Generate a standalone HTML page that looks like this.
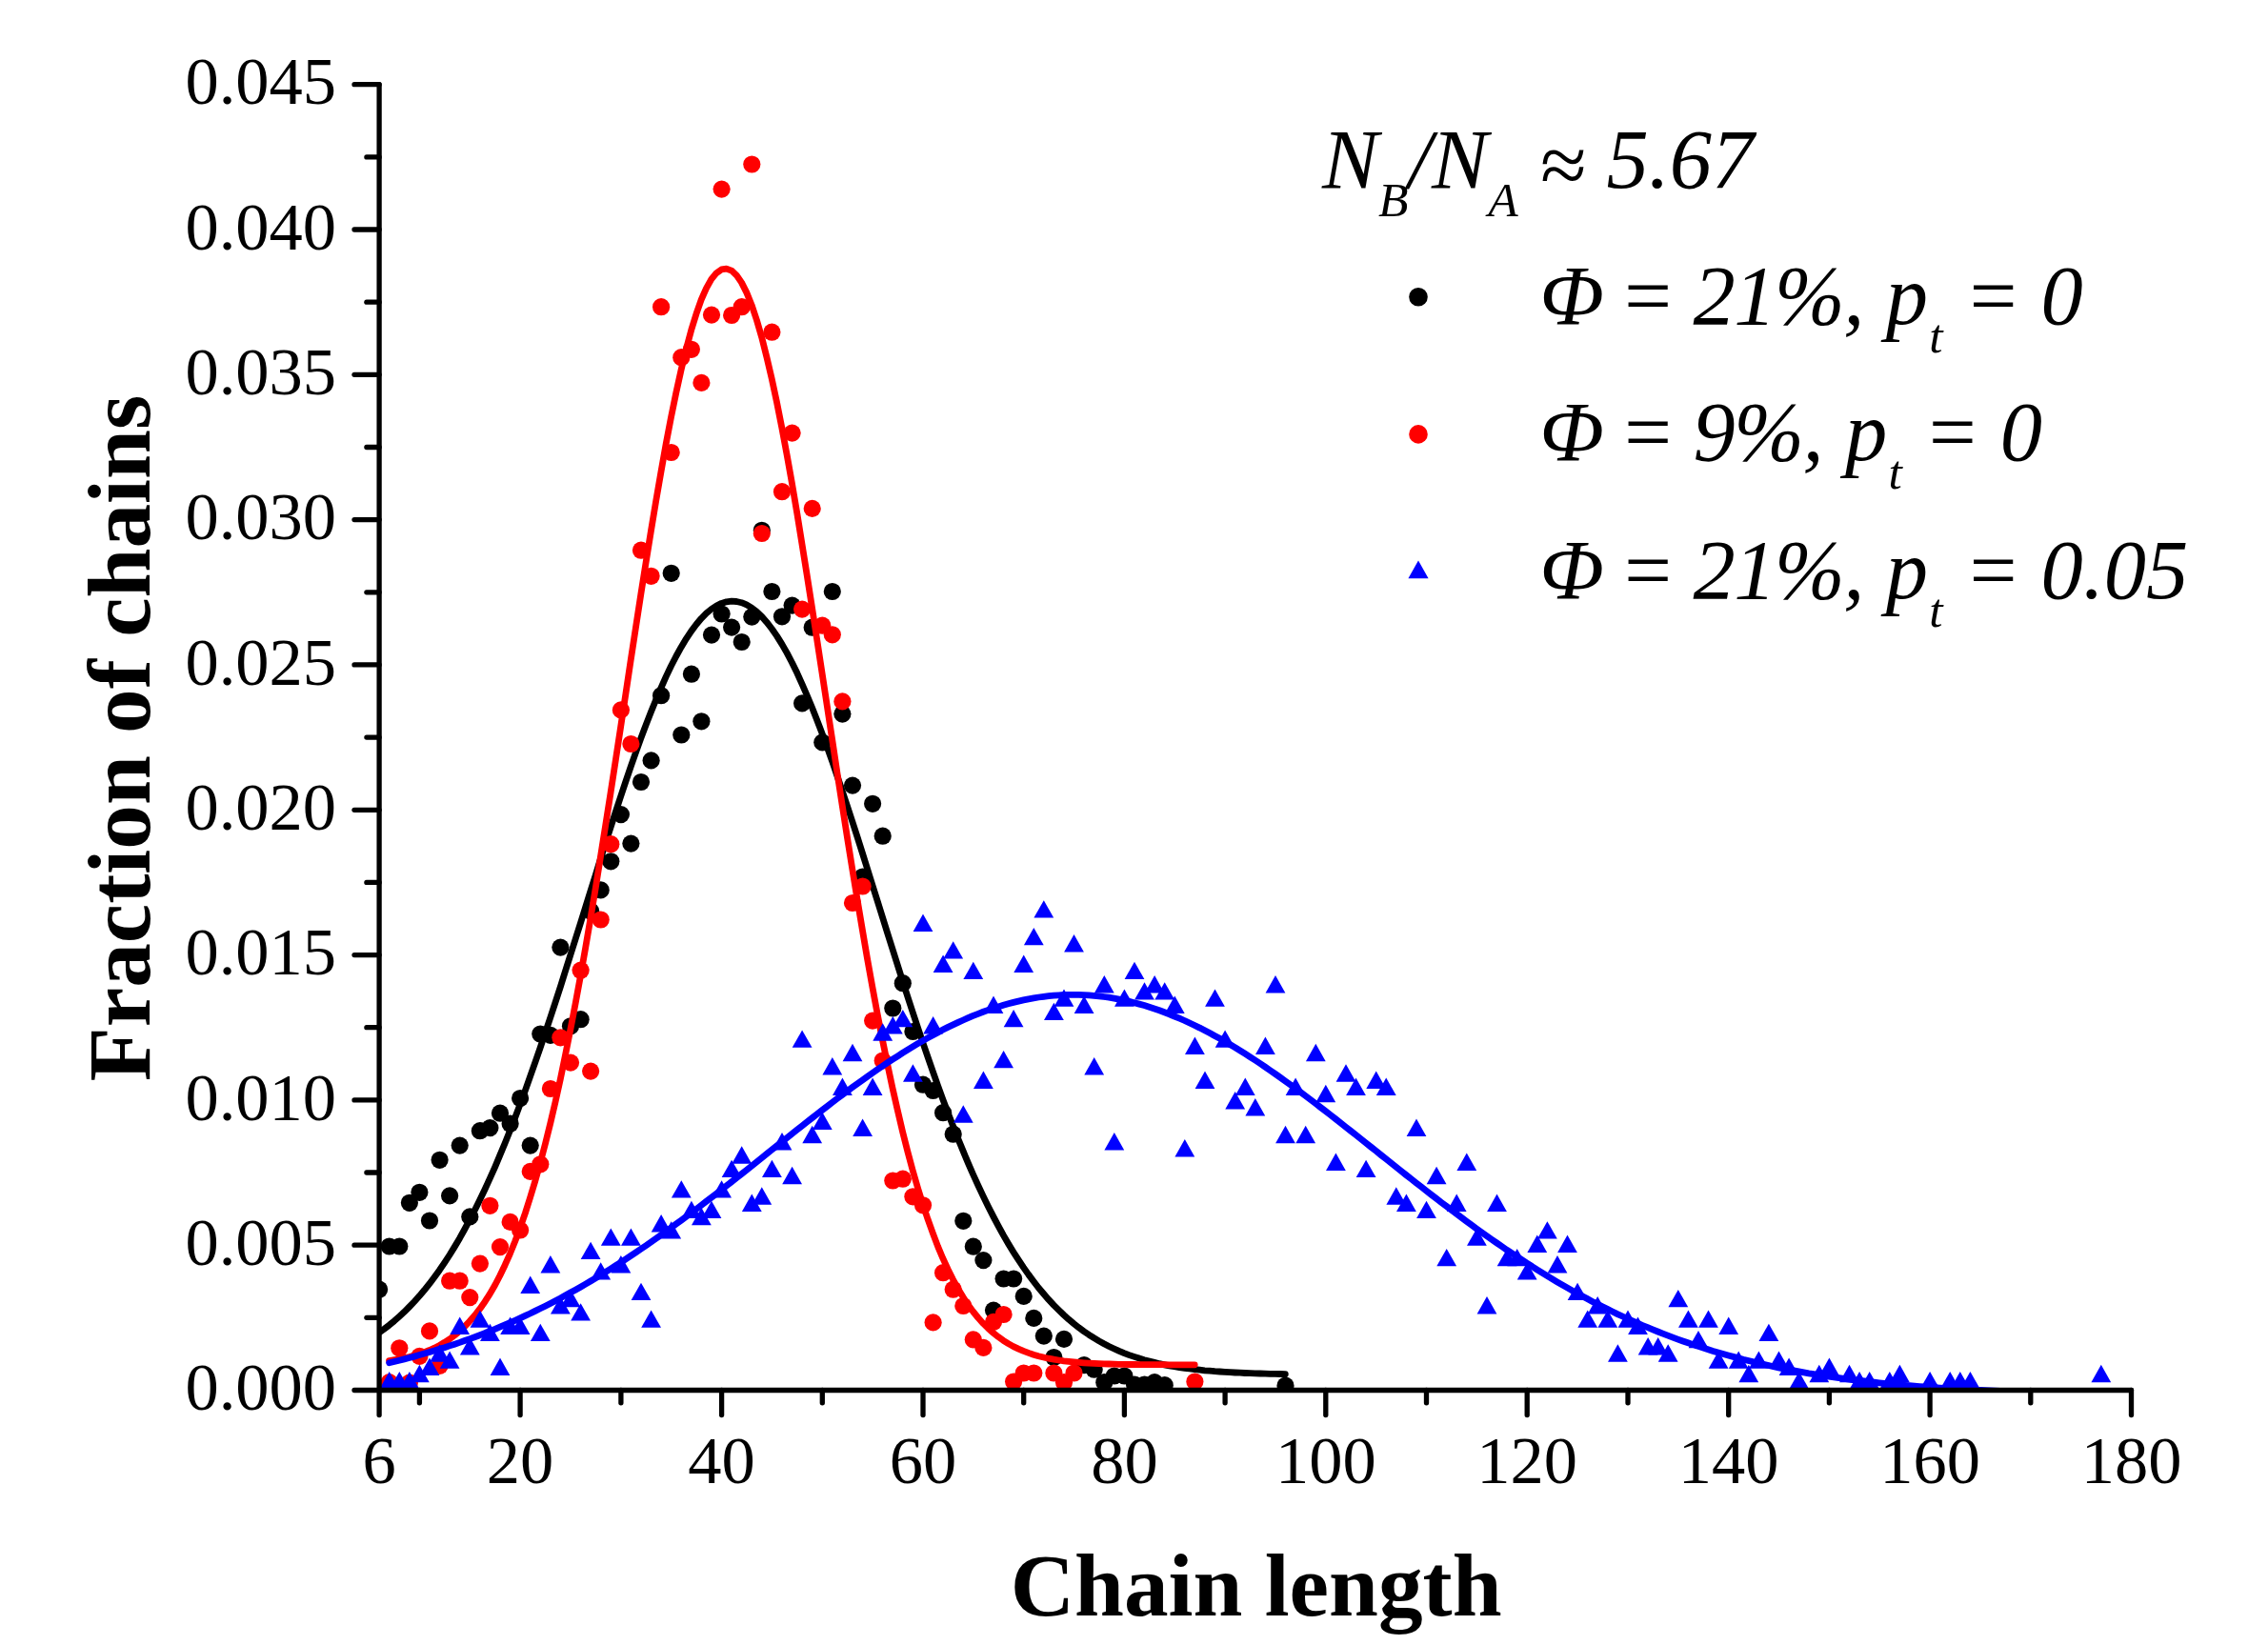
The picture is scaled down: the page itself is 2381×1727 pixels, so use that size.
<!DOCTYPE html>
<html lang="en"><head><meta charset="utf-8"><title>Chain length distribution</title>
<style>html,body{margin:0;padding:0;background:#fff}body{width:2381px;height:1727px;overflow:hidden}svg{display:block}text{font-family:"Liberation Serif","Times New Roman",Times,serif;fill:#000}.tk{font-size:70.5px}.ti{font-size:93.3px;font-weight:bold}.lg{font-size:88.5px;font-style:italic}.sb{font-size:51.5px}</style></head><body>
<svg width="2381" height="1727" viewBox="0 0 2381 1727">
<rect width="2381" height="1727" fill="#fff"/>
<defs><clipPath id="pc"><rect x="398.1" y="0" width="1982.8" height="1459.5"/></clipPath></defs>
<g clip-path="url(#pc)">
<g fill="#000">
<circle cx="398.1" cy="1353.7" r="9.1"/>
<circle cx="408.7" cy="1308.5" r="9.1"/>
<circle cx="419.3" cy="1308.5" r="9.1"/>
<circle cx="429.9" cy="1262.8" r="9.1"/>
<circle cx="440.4" cy="1251.8" r="9.1"/>
<circle cx="451" cy="1281.5" r="9.1"/>
<circle cx="461.6" cy="1217.8" r="9.1"/>
<circle cx="472.1" cy="1255.4" r="9.1"/>
<circle cx="482.7" cy="1202.6" r="9.1"/>
<circle cx="493.3" cy="1277.4" r="9.1"/>
<circle cx="503.9" cy="1187.2" r="9.1"/>
<circle cx="514.4" cy="1184.1" r="9.1"/>
<circle cx="525" cy="1168.7" r="9.1"/>
<circle cx="535.6" cy="1179.7" r="9.1"/>
<circle cx="546.1" cy="1153" r="9.1"/>
<circle cx="556.7" cy="1202.6" r="9.1"/>
<circle cx="567.3" cy="1085.5" r="9.1"/>
<circle cx="577.9" cy="1086.9" r="9.1"/>
<circle cx="588.4" cy="994.6" r="9.1"/>
<circle cx="599" cy="1077.3" r="9.1"/>
<circle cx="609.6" cy="1070.2" r="9.1"/>
<circle cx="620.1" cy="956.5" r="9.1"/>
<circle cx="630.7" cy="934.4" r="9.1"/>
<circle cx="641.3" cy="904.3" r="9.1"/>
<circle cx="651.9" cy="855.1" r="9.1"/>
<circle cx="662.4" cy="885.6" r="9.1"/>
<circle cx="673" cy="821" r="9.1"/>
<circle cx="683.6" cy="798.4" r="9.1"/>
<circle cx="694.1" cy="730.2" r="9.1"/>
<circle cx="704.7" cy="601.8" r="9.1"/>
<circle cx="715.3" cy="771.5" r="9.1"/>
<circle cx="725.9" cy="707.7" r="9.1"/>
<circle cx="736.4" cy="757.3" r="9.1"/>
<circle cx="747" cy="666.6" r="9.1"/>
<circle cx="757.6" cy="644.5" r="9.1"/>
<circle cx="768.1" cy="658.6" r="9.1"/>
<circle cx="778.7" cy="674" r="9.1"/>
<circle cx="789.3" cy="647.6" r="9.1"/>
<circle cx="799.8" cy="556.8" r="9.1"/>
<circle cx="810.4" cy="621" r="9.1"/>
<circle cx="821" cy="647.3" r="9.1"/>
<circle cx="831.6" cy="635.6" r="9.1"/>
<circle cx="842.1" cy="738.4" r="9.1"/>
<circle cx="852.7" cy="658.7" r="9.1"/>
<circle cx="863.3" cy="779.4" r="9.1"/>
<circle cx="873.8" cy="621" r="9.1"/>
<circle cx="884.4" cy="749.6" r="9.1"/>
<circle cx="895" cy="824.6" r="9.1"/>
<circle cx="905.6" cy="920.5" r="9.1"/>
<circle cx="916.1" cy="843.8" r="9.1"/>
<circle cx="926.7" cy="877.7" r="9.1"/>
<circle cx="937.3" cy="1058.5" r="9.1"/>
<circle cx="947.8" cy="1032.2" r="9.1"/>
<circle cx="958.4" cy="1083" r="9.1"/>
<circle cx="969" cy="1138.7" r="9.1"/>
<circle cx="979.6" cy="1145" r="9.1"/>
<circle cx="990.1" cy="1168.2" r="9.1"/>
<circle cx="1000.7" cy="1190.7" r="9.1"/>
<circle cx="1011.3" cy="1281.8" r="9.1"/>
<circle cx="1021.8" cy="1308.7" r="9.1"/>
<circle cx="1032.4" cy="1323.1" r="9.1"/>
<circle cx="1043" cy="1375.6" r="9.1"/>
<circle cx="1053.6" cy="1342.5" r="9.1"/>
<circle cx="1064.1" cy="1342.5" r="9.1"/>
<circle cx="1074.7" cy="1360.9" r="9.1"/>
<circle cx="1085.3" cy="1383.9" r="9.1"/>
<circle cx="1095.8" cy="1402.6" r="9.1"/>
<circle cx="1106.4" cy="1425" r="9.1"/>
<circle cx="1117" cy="1405.9" r="9.1"/>
<circle cx="1138.1" cy="1433.2" r="9.1"/>
<circle cx="1148.7" cy="1437.7" r="9.1"/>
<circle cx="1159.3" cy="1451.2" r="9.1"/>
<circle cx="1169.8" cy="1444.5" r="9.1"/>
<circle cx="1180.4" cy="1444.5" r="9.1"/>
<circle cx="1191" cy="1453.5" r="9.1"/>
<circle cx="1201.5" cy="1453.5" r="9.1"/>
<circle cx="1212.1" cy="1451.2" r="9.1"/>
<circle cx="1222.7" cy="1454.2" r="9.1"/>
<circle cx="1349.5" cy="1454.7" r="9.1"/>
</g>
<polyline points="398,1399 403.3,1395.2 408.6,1391.2 413.9,1386.8 419.1,1382.2 424.4,1377.3 429.7,1372 435,1366.5 440.3,1360.6 445.6,1354.3 450.9,1347.7 456.1,1340.7 461.4,1333.4 466.7,1325.6 472,1317.5 477.3,1308.9 482.6,1299.9 487.8,1290.5 493.1,1280.7 498.4,1270.5 503.7,1259.8 509,1248.7 514.3,1237.2 519.6,1225.3 524.8,1212.9 530.1,1200.2 535.4,1187 540.7,1173.4 546,1159.4 551.3,1145.1 556.5,1130.4 561.8,1115.4 567.1,1100.1 572.4,1084.4 577.7,1068.5 583,1052.4 588.3,1036.1 593.5,1019.5 598.8,1002.8 604.1,986 609.4,969.2 614.7,952.2 620,935.3 625.3,918.4 630.5,901.6 635.8,884.9 641.1,868.4 646.4,852.1 651.7,836 657,820.2 662.2,804.8 667.5,789.8 672.8,775.2 678.1,761.1 683.4,747.5 688.7,734.5 694,722.1 699.2,710.4 704.5,699.3 709.8,689 715.1,679.4 720.4,670.6 725.7,662.6 731,655.5 736.2,649.3 741.5,643.9 746.8,639.5 752.1,636 757.4,633.4 762.7,631.8 768,631.2 773.2,631.5 778.5,632.7 783.8,634.9 789.1,638.1 794.4,642.2 799.7,647.2 804.9,653.2 810.2,660 815.5,667.6 820.8,676.1 826.1,685.4 831.4,695.5 836.7,706.3 841.9,717.8 847.2,730 852.5,742.8 857.8,756.2 863.1,770.1 868.4,784.5 873.7,799.4 878.9,814.7 884.2,830.3 889.5,846.3 894.8,862.5 900.1,878.9 905.4,895.6 910.6,912.3 915.9,929.2 921.2,946.1 926.5,963.1 931.8,980 937.1,996.8 942.4,1013.5 947.6,1030.1 952.9,1046.5 958.2,1062.8 963.5,1078.8 968.8,1094.5 974.1,1109.9 979.4,1125.1 984.6,1139.9 989.9,1154.3 995.2,1168.4 1000.5,1182.1 1005.8,1195.5 1011.1,1208.4 1016.3,1220.9 1021.6,1233 1026.9,1244.7 1032.2,1255.9 1037.5,1266.7 1042.8,1277.1 1048.1,1287.1 1053.3,1296.6 1058.6,1305.7 1063.9,1314.4 1069.2,1322.7 1074.5,1330.6 1079.8,1338.1 1085.1,1345.2 1090.3,1352 1095.6,1358.3 1100.9,1364.4 1106.2,1370.1 1111.5,1375.4 1116.8,1380.5 1122,1385.2 1127.3,1389.6 1132.6,1393.8 1137.9,1397.7 1143.2,1401.3 1148.5,1404.7 1153.8,1407.9 1159,1410.8 1164.3,1413.5 1169.6,1416 1174.9,1418.4 1180.2,1420.6 1185.5,1422.6 1190.8,1424.4 1196,1426.1 1201.3,1427.7 1206.6,1429.1 1211.9,1430.4 1217.2,1431.7 1222.5,1432.8 1227.7,1433.8 1233,1434.7 1238.3,1435.6 1243.6,1436.3 1248.9,1437 1254.2,1437.7 1259.5,1438.2 1264.7,1438.8 1270,1439.2 1275.3,1439.7 1280.6,1440 1285.9,1440.4 1291.2,1440.7 1296.5,1441 1301.7,1441.2 1307,1441.5 1312.3,1441.7 1317.6,1441.8 1322.9,1442 1328.2,1442.1 1333.4,1442.3 1338.7,1442.4 1344,1442.5 1349.3,1442.6" fill="none" stroke="#000" stroke-width="6.8" stroke-linecap="round" stroke-linejoin="round"/>
<g fill="#f00">
<circle cx="408.7" cy="1451.2" r="9.1"/>
<circle cx="419.3" cy="1415.3" r="9.1"/>
<circle cx="429.9" cy="1451.7" r="9.1"/>
<circle cx="440.4" cy="1423.9" r="9.1"/>
<circle cx="451" cy="1397.4" r="9.1"/>
<circle cx="461.6" cy="1433.9" r="9.1"/>
<circle cx="472.1" cy="1344.7" r="9.1"/>
<circle cx="482.7" cy="1344.7" r="9.1"/>
<circle cx="493.3" cy="1362.1" r="9.1"/>
<circle cx="503.9" cy="1326.6" r="9.1"/>
<circle cx="514.4" cy="1265.8" r="9.1"/>
<circle cx="525" cy="1309.1" r="9.1"/>
<circle cx="535.6" cy="1282.9" r="9.1"/>
<circle cx="546.1" cy="1291.5" r="9.1"/>
<circle cx="556.7" cy="1229.9" r="9.1"/>
<circle cx="567.3" cy="1222.3" r="9.1"/>
<circle cx="577.9" cy="1143" r="9.1"/>
<circle cx="588.4" cy="1089.3" r="9.1"/>
<circle cx="599" cy="1115.6" r="9.1"/>
<circle cx="609.6" cy="1018.7" r="9.1"/>
<circle cx="620.1" cy="1124.6" r="9.1"/>
<circle cx="630.7" cy="965.5" r="9.1"/>
<circle cx="641.3" cy="886.2" r="9.1"/>
<circle cx="651.9" cy="745.4" r="9.1"/>
<circle cx="662.4" cy="781" r="9.1"/>
<circle cx="673" cy="577.7" r="9.1"/>
<circle cx="683.6" cy="604.8" r="9.1"/>
<circle cx="694.1" cy="322.2" r="9.1"/>
<circle cx="704.7" cy="475" r="9.1"/>
<circle cx="715.3" cy="375.2" r="9.1"/>
<circle cx="725.9" cy="366.8" r="9.1"/>
<circle cx="736.4" cy="401.9" r="9.1"/>
<circle cx="747" cy="330.6" r="9.1"/>
<circle cx="757.6" cy="198.6" r="9.1"/>
<circle cx="768.1" cy="331" r="9.1"/>
<circle cx="778.7" cy="322.2" r="9.1"/>
<circle cx="789.3" cy="172.5" r="9.1"/>
<circle cx="799.8" cy="560" r="9.1"/>
<circle cx="810.4" cy="348.7" r="9.1"/>
<circle cx="821" cy="516.2" r="9.1"/>
<circle cx="831.6" cy="454.6" r="9.1"/>
<circle cx="842.1" cy="639.6" r="9.1"/>
<circle cx="852.7" cy="533.9" r="9.1"/>
<circle cx="863.3" cy="656.7" r="9.1"/>
<circle cx="873.8" cy="666.3" r="9.1"/>
<circle cx="884.4" cy="736.4" r="9.1"/>
<circle cx="895" cy="948" r="9.1"/>
<circle cx="905.6" cy="930.5" r="9.1"/>
<circle cx="916.1" cy="1071.6" r="9.1"/>
<circle cx="926.7" cy="1113.5" r="9.1"/>
<circle cx="937.3" cy="1239.5" r="9.1"/>
<circle cx="947.8" cy="1237.7" r="9.1"/>
<circle cx="958.4" cy="1256.3" r="9.1"/>
<circle cx="969" cy="1265.3" r="9.1"/>
<circle cx="979.6" cy="1388.4" r="9.1"/>
<circle cx="990.1" cy="1336.2" r="9.1"/>
<circle cx="1000.7" cy="1353.7" r="9.1"/>
<circle cx="1011.3" cy="1371" r="9.1"/>
<circle cx="1021.8" cy="1406.4" r="9.1"/>
<circle cx="1032.4" cy="1414.9" r="9.1"/>
<circle cx="1043" cy="1387.9" r="9.1"/>
<circle cx="1053.6" cy="1380" r="9.1"/>
<circle cx="1064.1" cy="1450.5" r="9.1"/>
<circle cx="1074.7" cy="1441.5" r="9.1"/>
<circle cx="1085.3" cy="1441.5" r="9.1"/>
<circle cx="1106.4" cy="1441.5" r="9.1"/>
<circle cx="1117" cy="1451.2" r="9.1"/>
<circle cx="1127.5" cy="1441.5" r="9.1"/>
<circle cx="1254.4" cy="1450.5" r="9.1"/>
</g>
<polyline points="408.6,1428.5 413.9,1427.7 419.1,1426.8 424.4,1425.7 429.7,1424.5 435,1423.1 440.3,1421.5 445.6,1419.7 450.9,1417.5 456.1,1415.2 461.4,1412.4 466.7,1409.3 472,1405.9 477.3,1401.9 482.6,1397.5 487.8,1392.6 493.1,1387.1 498.4,1381 503.7,1374.2 509,1366.7 514.3,1358.4 519.6,1349.2 524.8,1339.2 530.1,1328.2 535.4,1316.3 540.7,1303.3 546,1289.2 551.3,1273.9 556.5,1257.5 561.8,1239.9 567.1,1221.1 572.4,1201 577.7,1179.6 583,1156.9 588.3,1132.9 593.5,1107.7 598.8,1081.2 604.1,1053.6 609.4,1024.8 614.7,994.8 620,963.9 625.3,932 630.5,899.3 635.8,865.9 641.1,831.9 646.4,797.5 651.7,762.7 657,727.8 662.2,693 667.5,658.4 672.8,624.1 678.1,590.5 683.4,557.6 688.7,525.8 694,495.1 699.2,465.8 704.5,438.1 709.8,412.2 715.1,388.2 720.4,366.3 725.7,346.6 731,329.4 736.2,314.7 741.5,302.6 746.8,293.2 752.1,286.7 757.4,282.9 762.7,282.1 768,284.1 773.2,288.9 778.5,296.6 783.8,307.1 789.1,320.2 794.4,336 799.7,354.2 804.9,374.8 810.2,397.5 815.5,422.3 820.8,449 826.1,477.4 831.4,507.2 836.7,538.4 841.9,570.7 847.2,603.9 852.5,637.8 857.8,672.2 863.1,706.9 868.4,741.8 873.7,776.6 878.9,811.3 884.2,845.6 889.5,879.4 894.8,912.5 900.1,944.9 905.4,976.4 910.6,1006.9 915.9,1036.4 921.2,1064.8 926.5,1092 931.8,1117.9 937.1,1142.7 942.4,1166.1 947.6,1188.3 952.9,1209.2 958.2,1228.8 963.5,1247.1 968.8,1264.2 974.1,1280.2 979.4,1294.9 984.6,1308.6 989.9,1321.2 995.2,1332.7 1000.5,1343.3 1005.8,1353 1011.1,1361.8 1016.3,1369.8 1021.6,1377 1026.9,1383.5 1032.2,1389.4 1037.5,1394.7 1042.8,1399.4 1048.1,1403.6 1053.3,1407.3 1058.6,1410.6 1063.9,1413.6 1069.2,1416.1 1074.5,1418.4 1079.8,1420.4 1085.1,1422.2 1090.3,1423.7 1095.6,1425 1100.9,1426.2 1106.2,1427.2 1111.5,1428 1116.8,1428.8 1122,1429.4 1127.3,1429.9 1132.6,1430.4 1137.9,1430.8 1143.2,1431.1 1148.5,1431.4 1153.8,1431.6 1159,1431.8 1164.3,1432 1169.6,1432.2 1174.9,1432.3 1180.2,1432.4 1185.5,1432.5 1190.8,1432.5 1196,1432.6 1201.3,1432.6 1206.6,1432.7 1211.9,1432.7 1217.2,1432.7 1222.5,1432.7 1227.7,1432.8 1233,1432.8 1238.3,1432.8 1243.6,1432.8 1248.9,1432.8 1254.2,1432.8" fill="none" stroke="#f00" stroke-width="6.8" stroke-linecap="round" stroke-linejoin="round"/>
<g fill="#00f">
<polygon points="408.7,1439.9 419.1,1458.3 398.3,1458.3"/>
<polygon points="419.3,1439.9 429.7,1458.3 408.9,1458.3"/>
<polygon points="429.9,1439.9 440.3,1458.3 419.5,1458.3"/>
<polygon points="440.4,1432.8 450.8,1451.2 430,1451.2"/>
<polygon points="451,1425.6 461.4,1444 440.6,1444"/>
<polygon points="461.6,1411.2 472,1429.7 451.2,1429.7"/>
<polygon points="472.1,1418.4 482.5,1436.8 461.7,1436.8"/>
<polygon points="482.7,1382.6 493.1,1401 472.3,1401"/>
<polygon points="493.3,1404.1 503.7,1422.5 482.9,1422.5"/>
<polygon points="503.9,1375.4 514.3,1393.8 493.5,1393.8"/>
<polygon points="514.4,1389.7 524.8,1408.1 504,1408.1"/>
<polygon points="525,1425.6 535.4,1444 514.6,1444"/>
<polygon points="535.6,1382.6 546,1401 525.2,1401"/>
<polygon points="546.1,1382.6 556.5,1401 535.7,1401"/>
<polygon points="556.7,1339.5 567.1,1358 546.3,1358"/>
<polygon points="567.3,1389.7 577.7,1408.1 556.9,1408.1"/>
<polygon points="577.9,1318 588.3,1336.4 567.5,1336.4"/>
<polygon points="588.4,1361.1 598.8,1379.5 578,1379.5"/>
<polygon points="599,1353.9 609.4,1372.3 588.6,1372.3"/>
<polygon points="609.6,1368.2 620,1386.6 599.2,1386.6"/>
<polygon points="620.1,1303.7 630.5,1322.1 609.7,1322.1"/>
<polygon points="630.7,1325.2 641.1,1343.6 620.3,1343.6"/>
<polygon points="641.3,1289.4 651.7,1307.8 630.9,1307.8"/>
<polygon points="651.9,1318 662.3,1336.4 641.5,1336.4"/>
<polygon points="662.4,1289.4 672.8,1307.8 652,1307.8"/>
<polygon points="673,1346.7 683.4,1365.1 662.6,1365.1"/>
<polygon points="683.6,1375.4 694,1393.8 673.2,1393.8"/>
<polygon points="694.1,1275 704.5,1293.4 683.7,1293.4"/>
<polygon points="704.7,1282.2 715.1,1300.6 694.3,1300.6"/>
<polygon points="715.3,1239.2 725.7,1257.6 704.9,1257.6"/>
<polygon points="725.9,1260.7 736.3,1279.1 715.5,1279.1"/>
<polygon points="736.4,1267.8 746.8,1286.2 726,1286.2"/>
<polygon points="747,1260.7 757.4,1279.1 736.6,1279.1"/>
<polygon points="757.6,1239.2 768,1257.6 747.2,1257.6"/>
<polygon points="768.1,1217.7 778.5,1236.1 757.7,1236.1"/>
<polygon points="778.7,1203.3 789.1,1221.7 768.3,1221.7"/>
<polygon points="789.3,1253.5 799.7,1271.9 778.9,1271.9"/>
<polygon points="799.8,1246.3 810.2,1264.7 789.4,1264.7"/>
<polygon points="810.4,1217.7 820.8,1236.1 800,1236.1"/>
<polygon points="821,1189 831.4,1207.4 810.6,1207.4"/>
<polygon points="831.6,1224.8 842,1243.2 821.2,1243.2"/>
<polygon points="842.1,1081.4 852.5,1099.8 831.7,1099.8"/>
<polygon points="852.7,1181.8 863.1,1200.2 842.3,1200.2"/>
<polygon points="863.3,1167.5 873.7,1185.9 852.9,1185.9"/>
<polygon points="873.8,1110.1 884.2,1128.5 863.4,1128.5"/>
<polygon points="884.4,1131.6 894.8,1150 874,1150"/>
<polygon points="895,1095.8 905.4,1114.2 884.6,1114.2"/>
<polygon points="905.6,1174.6 916,1193 895.2,1193"/>
<polygon points="916.1,1131.6 926.5,1150 905.7,1150"/>
<polygon points="926.7,1074.3 937.1,1092.7 916.3,1092.7"/>
<polygon points="937.3,1067.1 947.7,1085.5 926.9,1085.5"/>
<polygon points="947.8,1059.9 958.2,1078.3 937.4,1078.3"/>
<polygon points="958.4,1117.3 968.8,1135.7 948,1135.7"/>
<polygon points="969,959.5 979.4,977.9 958.6,977.9"/>
<polygon points="979.6,1067.1 990,1085.5 969.2,1085.5"/>
<polygon points="990.1,1002.6 1000.5,1021 979.7,1021"/>
<polygon points="1000.7,988.2 1011.1,1006.6 990.3,1006.6"/>
<polygon points="1011.3,1160.3 1021.7,1178.7 1000.9,1178.7"/>
<polygon points="1021.8,1009.7 1032.2,1028.1 1011.4,1028.1"/>
<polygon points="1032.4,1124.5 1042.8,1142.9 1022,1142.9"/>
<polygon points="1043,1045.6 1053.4,1064 1032.6,1064"/>
<polygon points="1053.6,1102.9 1064,1121.3 1043.2,1121.3"/>
<polygon points="1064.1,1059.9 1074.5,1078.3 1053.7,1078.3"/>
<polygon points="1074.7,1002.6 1085.1,1021 1064.3,1021"/>
<polygon points="1085.3,973.9 1095.7,992.3 1074.9,992.3"/>
<polygon points="1095.8,945.2 1106.2,963.6 1085.4,963.6"/>
<polygon points="1106.4,1052.7 1116.8,1071.1 1096,1071.1"/>
<polygon points="1117,1038.4 1127.4,1056.8 1106.6,1056.8"/>
<polygon points="1127.5,981 1137.9,999.5 1117.1,999.5"/>
<polygon points="1138.1,1045.6 1148.5,1064 1127.7,1064"/>
<polygon points="1148.7,1110.1 1159.1,1128.5 1138.3,1128.5"/>
<polygon points="1159.3,1024.1 1169.7,1042.5 1148.9,1042.5"/>
<polygon points="1169.8,1189 1180.2,1207.4 1159.4,1207.4"/>
<polygon points="1180.4,1038.4 1190.8,1056.8 1170,1056.8"/>
<polygon points="1191,1009.7 1201.4,1028.1 1180.6,1028.1"/>
<polygon points="1201.5,1031.2 1211.9,1049.6 1191.1,1049.6"/>
<polygon points="1212.1,1024.1 1222.5,1042.5 1201.7,1042.5"/>
<polygon points="1222.7,1031.2 1233.1,1049.6 1212.3,1049.6"/>
<polygon points="1233.3,1045.6 1243.7,1064 1222.9,1064"/>
<polygon points="1243.8,1196.1 1254.2,1214.5 1233.4,1214.5"/>
<polygon points="1254.4,1088.6 1264.8,1107 1244,1107"/>
<polygon points="1265,1124.5 1275.4,1142.9 1254.6,1142.9"/>
<polygon points="1275.5,1038.4 1285.9,1056.8 1265.1,1056.8"/>
<polygon points="1286.1,1081.4 1296.5,1099.8 1275.7,1099.8"/>
<polygon points="1296.7,1146 1307.1,1164.4 1286.3,1164.4"/>
<polygon points="1307.3,1131.6 1317.7,1150 1296.9,1150"/>
<polygon points="1317.8,1153.1 1328.2,1171.5 1307.4,1171.5"/>
<polygon points="1328.4,1088.6 1338.8,1107 1318,1107"/>
<polygon points="1339,1024.1 1349.4,1042.5 1328.6,1042.5"/>
<polygon points="1349.5,1181.8 1359.9,1200.2 1339.1,1200.2"/>
<polygon points="1360.1,1131.6 1370.5,1150 1349.7,1150"/>
<polygon points="1370.7,1181.8 1381.1,1200.2 1360.3,1200.2"/>
<polygon points="1381.3,1095.8 1391.7,1114.2 1370.9,1114.2"/>
<polygon points="1391.8,1138.8 1402.2,1157.2 1381.4,1157.2"/>
<polygon points="1402.4,1210.5 1412.8,1228.9 1392,1228.9"/>
<polygon points="1413,1117.3 1423.4,1135.7 1402.6,1135.7"/>
<polygon points="1423.5,1131.6 1433.9,1150 1413.1,1150"/>
<polygon points="1434.1,1217.7 1444.5,1236.1 1423.7,1236.1"/>
<polygon points="1444.7,1124.5 1455.1,1142.9 1434.3,1142.9"/>
<polygon points="1455.2,1131.6 1465.7,1150 1444.8,1150"/>
<polygon points="1465.8,1246.3 1476.2,1264.7 1455.4,1264.7"/>
<polygon points="1476.4,1253.5 1486.8,1271.9 1466,1271.9"/>
<polygon points="1487,1174.6 1497.4,1193 1476.6,1193"/>
<polygon points="1497.5,1260.7 1507.9,1279.1 1487.1,1279.1"/>
<polygon points="1508.1,1224.8 1518.5,1243.2 1497.7,1243.2"/>
<polygon points="1518.7,1310.9 1529.1,1329.3 1508.3,1329.3"/>
<polygon points="1529.2,1253.5 1539.6,1271.9 1518.8,1271.9"/>
<polygon points="1539.8,1210.5 1550.2,1228.9 1529.4,1228.9"/>
<polygon points="1550.4,1289.4 1560.8,1307.8 1540,1307.8"/>
<polygon points="1561,1361.1 1571.4,1379.5 1550.6,1379.5"/>
<polygon points="1571.5,1253.5 1581.9,1271.9 1561.1,1271.9"/>
<polygon points="1582.1,1310.9 1592.5,1329.3 1571.7,1329.3"/>
<polygon points="1592.7,1310.9 1603.1,1329.3 1582.3,1329.3"/>
<polygon points="1603.2,1325.2 1613.6,1343.6 1592.8,1343.6"/>
<polygon points="1613.8,1296.5 1624.2,1314.9 1603.4,1314.9"/>
<polygon points="1624.4,1282.2 1634.8,1300.6 1614,1300.6"/>
<polygon points="1635,1318 1645.4,1336.4 1624.6,1336.4"/>
<polygon points="1645.5,1296.5 1655.9,1314.9 1635.1,1314.9"/>
<polygon points="1656.1,1346.7 1666.5,1365.1 1645.7,1365.1"/>
<polygon points="1666.7,1375.4 1677.1,1393.8 1656.3,1393.8"/>
<polygon points="1677.2,1361.1 1687.6,1379.5 1666.8,1379.5"/>
<polygon points="1687.8,1375.4 1698.2,1393.8 1677.4,1393.8"/>
<polygon points="1698.4,1411.2 1708.8,1429.7 1688,1429.7"/>
<polygon points="1709,1375.4 1719.4,1393.8 1698.6,1393.8"/>
<polygon points="1719.5,1382.6 1729.9,1401 1709.1,1401"/>
<polygon points="1730.1,1404.1 1740.5,1422.5 1719.7,1422.5"/>
<polygon points="1740.7,1404.1 1751.1,1422.5 1730.3,1422.5"/>
<polygon points="1751.2,1411.2 1761.6,1429.7 1740.8,1429.7"/>
<polygon points="1761.8,1353.9 1772.2,1372.3 1751.4,1372.3"/>
<polygon points="1772.4,1375.4 1782.8,1393.8 1762,1393.8"/>
<polygon points="1783,1396.9 1793.4,1415.3 1772.6,1415.3"/>
<polygon points="1793.5,1375.4 1803.9,1393.8 1783.1,1393.8"/>
<polygon points="1804.1,1418.4 1814.5,1436.8 1793.7,1436.8"/>
<polygon points="1814.7,1382.6 1825.1,1401 1804.3,1401"/>
<polygon points="1825.2,1418.4 1835.6,1436.8 1814.8,1436.8"/>
<polygon points="1835.8,1432.8 1846.2,1451.2 1825.4,1451.2"/>
<polygon points="1846.4,1418.4 1856.8,1436.8 1836,1436.8"/>
<polygon points="1856.9,1389.7 1867.3,1408.1 1846.5,1408.1"/>
<polygon points="1867.5,1418.4 1877.9,1436.8 1857.1,1436.8"/>
<polygon points="1878.1,1425.6 1888.5,1444 1867.7,1444"/>
<polygon points="1888.7,1439.9 1899.1,1458.3 1878.3,1458.3"/>
<polygon points="1909.8,1432.8 1920.2,1451.2 1899.4,1451.2"/>
<polygon points="1920.4,1425.6 1930.8,1444 1910,1444"/>
<polygon points="1941.5,1432.8 1951.9,1451.2 1931.1,1451.2"/>
<polygon points="1952.1,1439.9 1962.5,1458.3 1941.7,1458.3"/>
<polygon points="1962.7,1439.9 1973.1,1458.3 1952.3,1458.3"/>
<polygon points="1983.8,1439.9 1994.2,1458.3 1973.4,1458.3"/>
<polygon points="1994.4,1432.8 2004.8,1451.2 1984,1451.2"/>
<polygon points="2026.1,1439.9 2036.5,1458.3 2015.7,1458.3"/>
<polygon points="2047.2,1439.9 2057.6,1458.3 2036.8,1458.3"/>
<polygon points="2057.8,1439.9 2068.2,1458.3 2047.4,1458.3"/>
<polygon points="2068.4,1439.9 2078.8,1458.3 2058,1458.3"/>
<polygon points="2205.8,1432.8 2216.2,1451.2 2195.4,1451.2"/>
</g>
<polyline points="408.6,1430.8 413.9,1429.5 419.1,1428.2 424.4,1426.9 429.7,1425.5 435,1424.1 440.3,1422.6 445.6,1421.1 450.9,1419.6 456.1,1418 461.4,1416.3 466.7,1414.7 472,1412.9 477.3,1411.2 482.6,1409.4 487.8,1407.5 493.1,1405.6 498.4,1403.7 503.7,1401.7 509,1399.6 514.3,1397.5 519.6,1395.4 524.8,1393.2 530.1,1390.9 535.4,1388.6 540.7,1386.3 546,1383.9 551.3,1381.4 556.5,1379 561.8,1376.4 567.1,1373.8 572.4,1371.2 577.7,1368.5 583,1365.7 588.3,1362.9 593.5,1360 598.8,1357.1 604.1,1354.2 609.4,1351.2 614.7,1348.1 620,1345 625.3,1341.8 630.5,1338.6 635.8,1335.4 641.1,1332.1 646.4,1328.7 651.7,1325.3 657,1321.9 662.2,1318.4 667.5,1314.9 672.8,1311.3 678.1,1307.7 683.4,1304 688.7,1300.3 694,1296.6 699.2,1292.8 704.5,1289 709.8,1285.1 715.1,1281.2 720.4,1277.3 725.7,1273.4 731,1269.4 736.2,1265.4 741.5,1261.3 746.8,1257.3 752.1,1253.2 757.4,1249.1 762.7,1244.9 768,1240.8 773.2,1236.6 778.5,1232.5 783.8,1228.3 789.1,1224.1 794.4,1219.9 799.7,1215.7 804.9,1211.4 810.2,1207.2 815.5,1203 820.8,1198.8 826.1,1194.6 831.4,1190.4 836.7,1186.2 841.9,1182.1 847.2,1177.9 852.5,1173.8 857.8,1169.6 863.1,1165.5 868.4,1161.5 873.7,1157.4 878.9,1153.4 884.2,1149.5 889.5,1145.5 894.8,1141.6 900.1,1137.8 905.4,1134 910.6,1130.2 915.9,1126.5 921.2,1122.8 926.5,1119.2 931.8,1115.7 937.1,1112.2 942.4,1108.8 947.6,1105.4 952.9,1102.1 958.2,1098.9 963.5,1095.7 968.8,1092.6 974.1,1089.6 979.4,1086.7 984.6,1083.9 989.9,1081.1 995.2,1078.4 1000.5,1075.9 1005.8,1073.4 1011.1,1071 1016.3,1068.7 1021.6,1066.4 1026.9,1064.3 1032.2,1062.3 1037.5,1060.4 1042.8,1058.6 1048.1,1056.9 1053.3,1055.3 1058.6,1053.8 1063.9,1052.4 1069.2,1051.1 1074.5,1049.9 1079.8,1048.8 1085.1,1047.9 1090.3,1047 1095.6,1046.3 1100.9,1045.7 1106.2,1045.2 1111.5,1044.8 1116.8,1044.5 1122,1044.4 1127.3,1044.3 1132.6,1044.4 1137.9,1044.6 1143.2,1044.9 1148.5,1045.3 1153.8,1045.8 1159,1046.5 1164.3,1047.2 1169.6,1048.1 1174.9,1049.1 1180.2,1050.2 1185.5,1051.4 1190.8,1052.7 1196,1054.1 1201.3,1055.6 1206.6,1057.3 1211.9,1059 1217.2,1060.8 1222.5,1062.8 1227.7,1064.8 1233,1067 1238.3,1069.2 1243.6,1071.5 1248.9,1074 1254.2,1076.5 1259.5,1079.1 1264.7,1081.8 1270,1084.5 1275.3,1087.4 1280.6,1090.3 1285.9,1093.4 1291.2,1096.5 1296.5,1099.6 1301.7,1102.9 1307,1106.2 1312.3,1109.6 1317.6,1113 1322.9,1116.5 1328.2,1120.1 1333.4,1123.7 1338.7,1127.4 1344,1131.1 1349.3,1134.9 1354.6,1138.7 1359.9,1142.6 1365.2,1146.5 1370.4,1150.4 1375.7,1154.4 1381,1158.4 1386.3,1162.5 1391.6,1166.5 1396.9,1170.6 1402.2,1174.7 1407.4,1178.9 1412.7,1183.1 1418,1187.2 1423.3,1191.4 1428.6,1195.6 1433.9,1199.8 1439.1,1204 1444.4,1208.2 1449.7,1212.5 1455,1216.7 1460.3,1220.9 1465.6,1225.1 1470.9,1229.3 1476.1,1233.5 1481.4,1237.6 1486.7,1241.8 1492,1245.9 1497.3,1250.1 1502.6,1254.2 1507.9,1258.2 1513.1,1262.3 1518.4,1266.3 1523.7,1270.3 1529,1274.3 1534.3,1278.3 1539.6,1282.2 1544.8,1286 1550.1,1289.9 1555.4,1293.7 1560.7,1297.5 1566,1301.2 1571.3,1304.9 1576.6,1308.5 1581.8,1312.2 1587.1,1315.7 1592.4,1319.2 1597.7,1322.7 1603,1326.2 1608.3,1329.5 1613.5,1332.9 1618.8,1336.2 1624.1,1339.4 1629.4,1342.6 1634.7,1345.8 1640,1348.9 1645.3,1351.9 1650.5,1354.9 1655.8,1357.8 1661.1,1360.7 1666.4,1363.6 1671.7,1366.4 1677,1369.1 1682.3,1371.8 1687.5,1374.4 1692.8,1377 1698.1,1379.6 1703.4,1382 1708.7,1384.5 1714,1386.9 1719.2,1389.2 1724.5,1391.5 1729.8,1393.7 1735.1,1395.9 1740.4,1398 1745.7,1400.1 1751,1402.1 1756.2,1404.1 1761.5,1406.1 1766.8,1408 1772.1,1409.8 1777.4,1411.6 1782.7,1413.4 1788,1415.1 1793.2,1416.7 1798.5,1418.4 1803.8,1419.9 1809.1,1421.5 1814.4,1423 1819.7,1424.4 1825,1425.8 1830.2,1427.2 1835.5,1428.5 1840.8,1429.8 1846.1,1431.1 1851.4,1432.3 1856.7,1433.5 1861.9,1434.7 1867.2,1435.8 1872.5,1436.8 1877.8,1437.9 1883.1,1438.9 1888.4,1439.9 1893.7,1440.8 1898.9,1441.8 1904.2,1442.6 1909.5,1443.5 1914.8,1444.3 1920.1,1445.1 1925.4,1445.9 1930.7,1446.7 1935.9,1447.4 1941.2,1448.1 1946.5,1448.8 1951.8,1449.4 1957.1,1450 1962.4,1450.6 1967.6,1451.2 1972.9,1451.8 1978.2,1452.3 1983.5,1452.9 1988.8,1453.4 1994.1,1453.8 1999.4,1454.3 2004.6,1454.7 2009.9,1455.2 2015.2,1455.6 2020.5,1456 2025.8,1456.4 2031.1,1456.7 2036.4,1457.1 2041.6,1457.4 2046.9,1457.7 2052.2,1458 2057.5,1458.3 2062.8,1458.6 2068.1,1458.9 2073.3,1459.2 2078.6,1459.4 2083.9,1459.6 2089.2,1459.9 2094.5,1460.1 2099.8,1460.3 2105.1,1460.5 2110.3,1460.7 2115.6,1460.9 2120.9,1461 2126.2,1461.2 2131.5,1461.4 2136.8,1461.5 2142.1,1461.7 2147.3,1461.8 2152.6,1461.9 2157.9,1462.1 2163.2,1462.2 2168.5,1462.3 2173.8,1462.4 2179,1462.5 2184.3,1462.6 2189.6,1462.7 2194.9,1462.8 2200.2,1462.9 2205.5,1463" fill="none" stroke="#00f" stroke-width="6.8" stroke-linecap="round" stroke-linejoin="round"/>
</g>
<g stroke="#000" stroke-width="5.3" stroke-linecap="round" fill="none">
<line x1="398.1" y1="88.7" x2="398.1" y2="1459.5"/>
<line x1="398.1" y1="1459.5" x2="2237.5" y2="1459.5"/>
<line x1="372" y1="1459.5" x2="398.1" y2="1459.5"/>
<line x1="384.9" y1="1383.3" x2="398.1" y2="1383.3"/>
<line x1="372" y1="1307.2" x2="398.1" y2="1307.2"/>
<line x1="384.9" y1="1231" x2="398.1" y2="1231"/>
<line x1="372" y1="1154.9" x2="398.1" y2="1154.9"/>
<line x1="384.9" y1="1078.7" x2="398.1" y2="1078.7"/>
<line x1="372" y1="1002.6" x2="398.1" y2="1002.6"/>
<line x1="384.9" y1="926.4" x2="398.1" y2="926.4"/>
<line x1="372" y1="850.3" x2="398.1" y2="850.3"/>
<line x1="384.9" y1="774.1" x2="398.1" y2="774.1"/>
<line x1="372" y1="697.9" x2="398.1" y2="697.9"/>
<line x1="384.9" y1="621.8" x2="398.1" y2="621.8"/>
<line x1="372" y1="545.6" x2="398.1" y2="545.6"/>
<line x1="384.9" y1="469.5" x2="398.1" y2="469.5"/>
<line x1="372" y1="393.3" x2="398.1" y2="393.3"/>
<line x1="384.9" y1="317.2" x2="398.1" y2="317.2"/>
<line x1="372" y1="241" x2="398.1" y2="241"/>
<line x1="384.9" y1="164.9" x2="398.1" y2="164.9"/>
<line x1="372" y1="88.7" x2="398.1" y2="88.7"/>
<line x1="398.1" y1="1459.5" x2="398.1" y2="1485.5"/>
<line x1="440.4" y1="1459.5" x2="440.4" y2="1472.8"/>
<line x1="546.1" y1="1459.5" x2="546.1" y2="1485.5"/>
<line x1="651.9" y1="1459.5" x2="651.9" y2="1472.8"/>
<line x1="757.6" y1="1459.5" x2="757.6" y2="1485.5"/>
<line x1="863.3" y1="1459.5" x2="863.3" y2="1472.8"/>
<line x1="969" y1="1459.5" x2="969" y2="1485.5"/>
<line x1="1074.7" y1="1459.5" x2="1074.7" y2="1472.8"/>
<line x1="1180.4" y1="1459.5" x2="1180.4" y2="1485.5"/>
<line x1="1286.1" y1="1459.5" x2="1286.1" y2="1472.8"/>
<line x1="1391.8" y1="1459.5" x2="1391.8" y2="1485.5"/>
<line x1="1497.5" y1="1459.5" x2="1497.5" y2="1472.8"/>
<line x1="1603.2" y1="1459.5" x2="1603.2" y2="1485.5"/>
<line x1="1709" y1="1459.5" x2="1709" y2="1472.8"/>
<line x1="1814.7" y1="1459.5" x2="1814.7" y2="1485.5"/>
<line x1="1920.4" y1="1459.5" x2="1920.4" y2="1472.8"/>
<line x1="2026.1" y1="1459.5" x2="2026.1" y2="1485.5"/>
<line x1="2131.8" y1="1459.5" x2="2131.8" y2="1472.8"/>
<line x1="2237.5" y1="1459.5" x2="2237.5" y2="1485.5"/>
</g>
<g class="tk" text-anchor="end">
<text x="353" y="1480.2">0.000</text>
<text x="353" y="1327.9">0.005</text>
<text x="353" y="1175.6">0.010</text>
<text x="353" y="1023.3">0.015</text>
<text x="353" y="871">0.020</text>
<text x="353" y="718.6">0.025</text>
<text x="353" y="566.3">0.030</text>
<text x="353" y="414">0.035</text>
<text x="353" y="261.7">0.040</text>
<text x="353" y="109.4">0.045</text>
</g>
<g class="tk" text-anchor="middle">
<text x="398.1" y="1556.8">6</text>
<text x="546.1" y="1556.8">20</text>
<text x="757.6" y="1556.8">40</text>
<text x="969" y="1556.8">60</text>
<text x="1180.4" y="1556.8">80</text>
<text x="1391.8" y="1556.8">100</text>
<text x="1603.2" y="1556.8">120</text>
<text x="1814.7" y="1556.8">140</text>
<text x="2026.1" y="1556.8">160</text>
<text x="2237.5" y="1556.8">180</text>
</g>
<text class="ti" text-anchor="middle" x="1318.6" y="1696">Chain length</text>
<text class="ti" text-anchor="middle" transform="translate(156.6 775) rotate(-90)">Fraction of chains</text>
<text class="lg" x="1388" y="196.5">N<tspan class="sb" dy="30">B</tspan><tspan dy="-30">/N</tspan><tspan class="sb" dy="30">A</tspan><tspan dy="-24"> ≈</tspan><tspan dy="-6"> 5.67</tspan></text>
<text class="lg" x="1616.6" y="339.6">Φ<tspan dx="-6.6"> =</tspan><tspan dx="-2.3" letter-spacing="-1.5"> 21%,</tspan><tspan dx="1.8"> p</tspan><tspan class="sb" dx="1.1" dy="30">t</tspan><tspan dy="-30" dx="0.4"> =</tspan><tspan dx="-1.5"> 0</tspan></text>
<text class="lg" x="1616.6" y="483.4">Φ<tspan dx="-6.6"> =</tspan><tspan dx="-2.3" letter-spacing="-1.5"> 9%,</tspan><tspan dx="1.8"> p</tspan><tspan class="sb" dx="1.1" dy="30">t</tspan><tspan dy="-30" dx="0.4"> =</tspan><tspan dx="-1.5"> 0</tspan></text>
<text class="lg" x="1616.6" y="628">Φ<tspan dx="-6.6"> =</tspan><tspan dx="-2.3" letter-spacing="-1.5"> 21%,</tspan><tspan dx="1.8"> p</tspan><tspan class="sb" dx="1.1" dy="30">t</tspan><tspan dy="-30" dx="0.4"> =</tspan><tspan dx="-1.5"> 0.05</tspan></text>
<circle cx="1489" cy="311.8" r="9.8" fill="#000"/>
<circle cx="1489" cy="455.9" r="9.8" fill="#f00"/>
<polygon points="1489,588.5 1499.6,607.3 1478.4,607.3" fill="#00f"/>
</svg></body></html>
